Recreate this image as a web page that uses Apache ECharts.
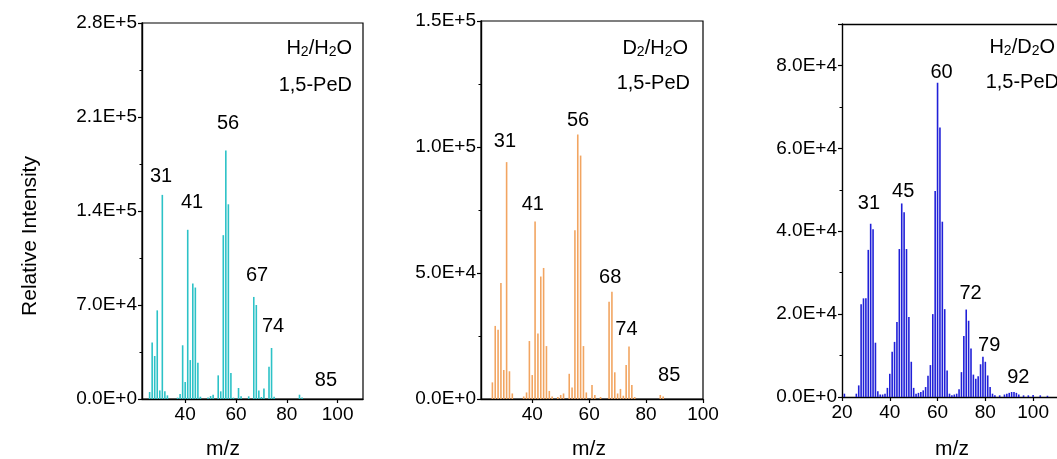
<!DOCTYPE html>
<html>
<head>
<meta charset="utf-8">
<script src="https://cdn.jsdelivr.net/npm/echarts@6/dist/echarts.min.js"></script>
<style>
html,body{margin:0;padding:0;background:#fff;}
#chart{width:1057px;height:459px;}
</style>
</head>
<body>
<div id="chart"></div>
<script>
// ---------- data ----------
// Panel 1: H2/H2O
const mz1 = [26,27,28,29,30,31,32,33,37,38,39,40,41,42,43,44,45,46,49,50,51,53,54,55,56,57,58,59,61,62,65,67,68,69,70,71,73,74,75,85,86];
const int1 = [5200,42000,32000,66000,6400,152000,5700,2700,1000,3700,40000,12600,126000,29000,86000,83000,27000,1700,1200,2200,3200,17600,5700,122000,185000,145000,19300,1000,8200,2000,2000,76000,70000,6400,1500,7900,24000,38000,1700,3200,1200];
// Panel 2: D2/H2O
const mz2 = [26,27,28,29,30,31,32,33,37,38,39,40,41,42,43,44,45,46,47,49,50,51,53,54,55,56,57,58,59,61,62,64,67,68,69,70,71,72,73,74,75,76,85,86];
const int2 = [6600,29000,27500,46000,11500,94000,11000,2200,1000,2600,23000,9500,70400,26000,48600,52000,21000,3200,1000,800,1600,2200,10000,4600,67000,105000,96600,21000,2600,5600,1600,800,38600,42600,10600,2200,4000,1300,13500,20800,5600,800,1600,1000];
// Panel 3: H2/D2O
const mz3 = [21,26,27,28,29,30,31,32,33,34,35,36,37,38,39,40,41,42,43,44,45,46,47,48,49,50,51,52,53,54,55,56,57,58,59,60,61,62,63,64,65,66,67,68,69,70,71,72,73,74,75,76,77,78,79,80,81,82,83,84,86,88,89,90,91,92,93,94,96,98,100,103,106];
const int3 = [800,800,2800,22400,23800,23800,35500,41800,40500,13100,1400,600,600,800,2200,5600,10900,13300,18100,35700,46700,44600,35700,19300,8500,2200,800,1000,1200,1600,2400,5100,7700,20000,49700,75800,65000,42300,21200,6400,800,400,600,800,1900,6000,14700,21100,18400,11700,5400,4400,5000,7900,9700,8500,5200,2400,800,400,400,600,800,1000,1200,1200,1000,600,400,400,500,400,300];

// peak label texts
const peakText1 = ['31','41','56','67','74','85'];
const peakText2 = ['31','41','56','68','74','85'];
const peakText3 = ['31','45','60','72','79','92'];
// tick labels
const xTicks1 = [40,60,80,100];
const xTicks2 = [40,60,80,100];
const xTicks3 = [20,40,60,80,100];

// ---------- layout (label anchors in data units) ----------
const peakAnchor1 = [[30.5,166000],[42.7,146000],[56.9,205000],[68.3,92000],[74.6,54000],[95.4,14000]];
const peakAnchor2 = [[30.4,102000],[40.2,77000],[56.1,110700],[67.4,48100],[73.1,27700],[88.1,9500]];
const peakAnchor3 = [[31.3,46700],[45.6,49700],[61.7,78300],[73.8,25000],[81.6,12500],[93.8,4700]];

const FONT = 'Liberation Sans, Arial, Helvetica, sans-serif';
const expFmt = v => v.toExponential(1).toUpperCase();

function gridCfg(l, t, w, h, border) {
  return {left:l, top:t, width:w, height:h, show:border, borderColor:'#000', borderWidth:1.2, backgroundColor:'rgba(0,0,0,0)', containLabel:false};
}
const axisLineCfg = {show:true, onZero:false, lineStyle:{color:'#000', width:1.4}};

function xAxisCfg(gi, min, max, ticks) {
  return {
    gridIndex:gi, type:'value', min:min, max:max,
    axisLine:axisLineCfg,
    axisTick:{show:true, inside:false, length:4, customValues:ticks, lineStyle:{color:'#000', width:1.2}},
    axisLabel:{fontSize:19, color:'#000', margin:6, fontFamily:FONT, customValues:ticks},
    splitLine:{show:false}
  };
}
function topLine(gi, min, max) {
  return {gridIndex:gi, type:'value', position:'top', min:min, max:max,
    axisLine:axisLineCfg, axisTick:{show:false}, axisLabel:{show:false}, splitLine:{show:false}};
}
function yAxisCfg(gi, max, interval, hideAbove) {
  return {
    gridIndex:gi, type:'value', min:0, max:max, interval:interval,
    axisLine:axisLineCfg,
    axisTick:{show:true, inside:false, length:4, lineStyle:{color:'#000', width:1.2}},
    minorTick:{show:true, splitNumber:2, length:2.5, lineStyle:{color:'#000', width:1}},
    axisLabel:{fontSize:19, color:'#000', margin:5, fontFamily:FONT,
      formatter: v => (hideAbove !== undefined && v > hideAbove) ? '' : expFmt(v)},
    splitLine:{show:false}, minorSplitLine:{show:false}
  };
}

function barSeries(i, mz, val, color) {
  return {type:'bar', xAxisIndex:i, yAxisIndex:i, barWidth:1.6, silent:true,
    itemStyle:{color:color}, data: mz.map((m,k)=>[m,val[k]])};
}
function labelSeries(i, anchors, texts) {
  return {type:'scatter', xAxisIndex:i, yAxisIndex:i, symbol:'circle', symbolSize:1, silent:true,
    itemStyle:{color:'#fff', opacity:0},
    label:{show:true, position:'inside', fontSize:20, color:'#000', opacity:1, textBorderWidth:0,
      fontFamily:FONT, formatter: p => texts[p.dataIndex]},
    emphasis:{disabled:true},
    data: anchors};
}

function annot(x, y, parts) {
  return {type:'text', x:x, y:y, silent:true,
    style:{text:parts, align:'right', verticalAlign:'middle', fontFamily:FONT, fill:'#000',
      rich:{n:{fontSize:20, fontFamily:FONT, fill:'#000', lineHeight:22, verticalAlign:'middle'},
            s:{fontSize:14, fontFamily:FONT, fill:'#000', lineHeight:14, verticalAlign:'bottom', padding:[7,0,0,0]}}}};
}
function plain(x, y, t, size, rot) {
  return {type:'text', x:x, y:y, rotation:rot||0, silent:true,
    style:{text:t, align:'center', verticalAlign:'middle', fontSize:size, fontFamily:FONT, fill:'#000'}};
}

const option = {
  animation:false,
  backgroundColor:'#fff',
  textStyle:{fontFamily:FONT},
  grid:[gridCfg(142,23,221,376,true), gridCfg(481,21,222,378,true), gridCfg(842,24,215,373,false)],
  xAxis:[xAxisCfg(0,23,110,xTicks1), xAxisCfg(1,22,100,xTicks2), xAxisCfg(2,20,110,xTicks3), topLine(2,20,110)],
  yAxis:[yAxisCfg(0,280000,70000), yAxisCfg(1,150000,50000), yAxisCfg(2,90000,20000,85000)],
  series:[
    barSeries(0,mz1,int1,'#2cc2c7'),
    barSeries(1,mz2,int2,'#f2a561'),
    barSeries(2,mz3,int3,'#2020d8'),
    labelSeries(0,peakAnchor1,peakText1),
    labelSeries(1,peakAnchor2,peakText2),
    labelSeries(2,peakAnchor3,peakText3)
  ],
  graphic:[
    annot(352,48,'{n|H}{s|2}{n|/H}{s|2}{n|O}'),
    annot(352,85,'{n|1,5-PeD}'),
    annot(688,48,'{n|D}{s|2}{n|/H}{s|2}{n|O}'),
    annot(690,83,'{n|1,5-PeD}'),
    annot(1055,47,'{n|H}{s|2}{n|/D}{s|2}{n|O}'),
    annot(1059,82,'{n|1,5-PeD}'),
    plain(223,449,'m/z',21),
    plain(589,449,'m/z',21),
    plain(952,449,'m/z',21),
    plain(30,236,'Relative Intensity',21,Math.PI/2)
  ]
};

const chart = echarts.init(document.getElementById('chart'), null, {renderer:'canvas'});
chart.setOption(option);
</script>
</body>
</html>
